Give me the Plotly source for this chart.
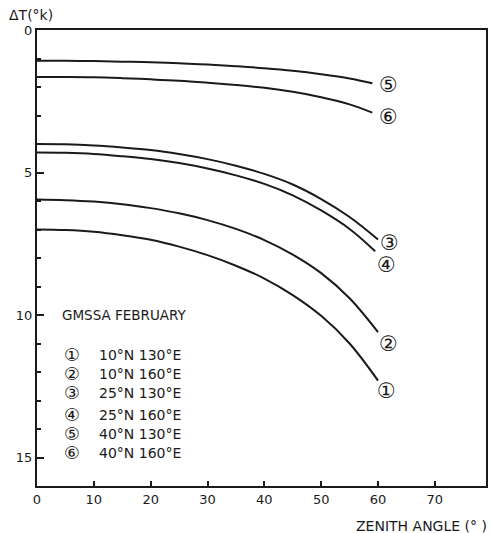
import plotly.graph_objects as go

# Zenith angle (deg) sample positions (last point of each curve listed separately)
zenith = [0, 5, 10, 15, 20, 25, 30, 35, 40, 45, 50, 55]

# Delta T (K) for each location
dt_1_10N_130E = [7.0, 7.02, 7.08, 7.2, 7.36, 7.6, 7.9, 8.27, 8.72, 9.3, 10.03, 11.0, 12.3]
dt_2_10N_160E = [5.95, 5.97, 6.02, 6.11, 6.25, 6.43, 6.67, 6.98, 7.37, 7.88, 8.53, 9.41, 10.6]
dt_3_25N_130E = [4.0, 4.01, 4.05, 4.12, 4.21, 4.35, 4.53, 4.76, 5.05, 5.42, 5.93, 6.56, 7.35]
dt_4_25N_160E = [4.3, 4.31, 4.35, 4.43, 4.53, 4.67, 4.86, 5.1, 5.4, 5.8, 6.33, 6.98, 7.76]
dt_5_40N_130E = [1.08, 1.08, 1.09, 1.11, 1.13, 1.17, 1.21, 1.27, 1.34, 1.43, 1.55, 1.70, 1.87]
dt_6_40N_160E = [1.65, 1.65, 1.66, 1.69, 1.73, 1.78, 1.85, 1.93, 2.03, 2.17, 2.36, 2.61, 2.9]
end_zenith = [60, 60, 60, 59.5, 59, 59]

series = [dt_1_10N_130E, dt_2_10N_160E, dt_3_25N_130E,
          dt_4_25N_160E, dt_5_40N_130E, dt_6_40N_160E]
markers = ["①", "②", "③", "④", "⑤", "⑥"]
locations = ["10°N 130°E", "10°N 160°E", "25°N 130°E",
             "25°N 160°E", "40°N 130°E", "40°N 160°E"]
x_ticks = [0, 10, 20, 30, 40, 50, 60, 70]
y_ticks = [0, 5, 10, 15]

# label positions (data coords) for curve-end markers
end_label_x = [61.5, 61.8, 62.0, 61.5, 61.8, 61.8]
end_label_y = [12.67, 11.0, 7.47, 8.25, 1.93, 3.05]
legend_rows_y = [11.4, 12.07, 12.74, 13.5, 14.18, 14.84]

FONT = "DejaVu Sans"
INK = "#1a1a1a"

fig = go.Figure()
for ys, xe in zip(series, end_zenith):
    xs = zenith + [xe]
    fig.add_trace(go.Scatter(x=xs, y=ys, mode="lines",
                             line=dict(color=INK, width=2, shape="spline", smoothing=1.0),
                             showlegend=False, hoverinfo="skip"))

ann = []
for m, lx, ly in zip(markers, end_label_x, end_label_y):
    ann.append(dict(x=lx, y=ly, xref="x", yref="y", text=m, showarrow=False,
                    font=dict(family=FONT, size=21, color=INK), xanchor="center", yanchor="middle"))

ann.append(dict(x=4.0, y=10.0, xref="x", yref="y", text="GMSSA FEBRUARY", showarrow=False,
                font=dict(family=FONT, size=13.5, color=INK), xanchor="left", yanchor="middle"))
for m, loc, ry in zip(markers, locations, legend_rows_y):
    ann.append(dict(x=6.1, y=ry, xref="x", yref="y", text=m, showarrow=False,
                    font=dict(family=FONT, size=17.5, color=INK), xanchor="center", yanchor="middle"))
    ann.append(dict(x=10.5, y=ry, xref="x", yref="y", text=loc, showarrow=False,
                    font=dict(family=FONT, size=14, color=INK), xanchor="left", yanchor="middle"))

ann.append(dict(x=0, y=1.0, xref="paper", yref="paper", xanchor="left", yanchor="middle",
                xshift=-30, yshift=15, text="ΔT(°k)", showarrow=False,
                font=dict(family=FONT, size=14, color=INK)))
ann.append(dict(x=1.0, y=0, xref="paper", yref="paper", xanchor="right", yanchor="middle",
                xshift=3, yshift=-40, text="ZENITH ANGLE (° )", showarrow=False,
                font=dict(family=FONT, size=14, color=INK)))

fig.update_layout(
    width=491, height=533,
    margin=dict(l=37, r=3, t=30, b=47),
    paper_bgcolor="white", plot_bgcolor="white",
    annotations=ann,
    xaxis=dict(range=[0, 79], tickvals=x_ticks, ticks="inside", ticklen=5,
               tickcolor=INK, tickwidth=1.5, showgrid=False, zeroline=False,
               showline=True, linecolor=INK, linewidth=2, mirror=True,
               tickfont=dict(family=FONT, size=13, color=INK)),
    yaxis=dict(range=[16, 0], tickvals=y_ticks, ticks="inside", ticklen=7,
               tickcolor=INK, tickwidth=1.5, showgrid=False, zeroline=False,
               showline=True, linecolor=INK, linewidth=2, mirror=True,
               minor=dict(dtick=1, ticks="inside", ticklen=4, tickcolor=INK, tickwidth=1.5),
               tickfont=dict(family=FONT, size=13, color=INK)),
)

# remove the page's default 8px body margin so the figure fills the window exactly
fig.write_html("out.html", config={"displayModeBar": False},
               post_script="document.body.style.margin='0px';document.body.style.overflow='hidden';")
